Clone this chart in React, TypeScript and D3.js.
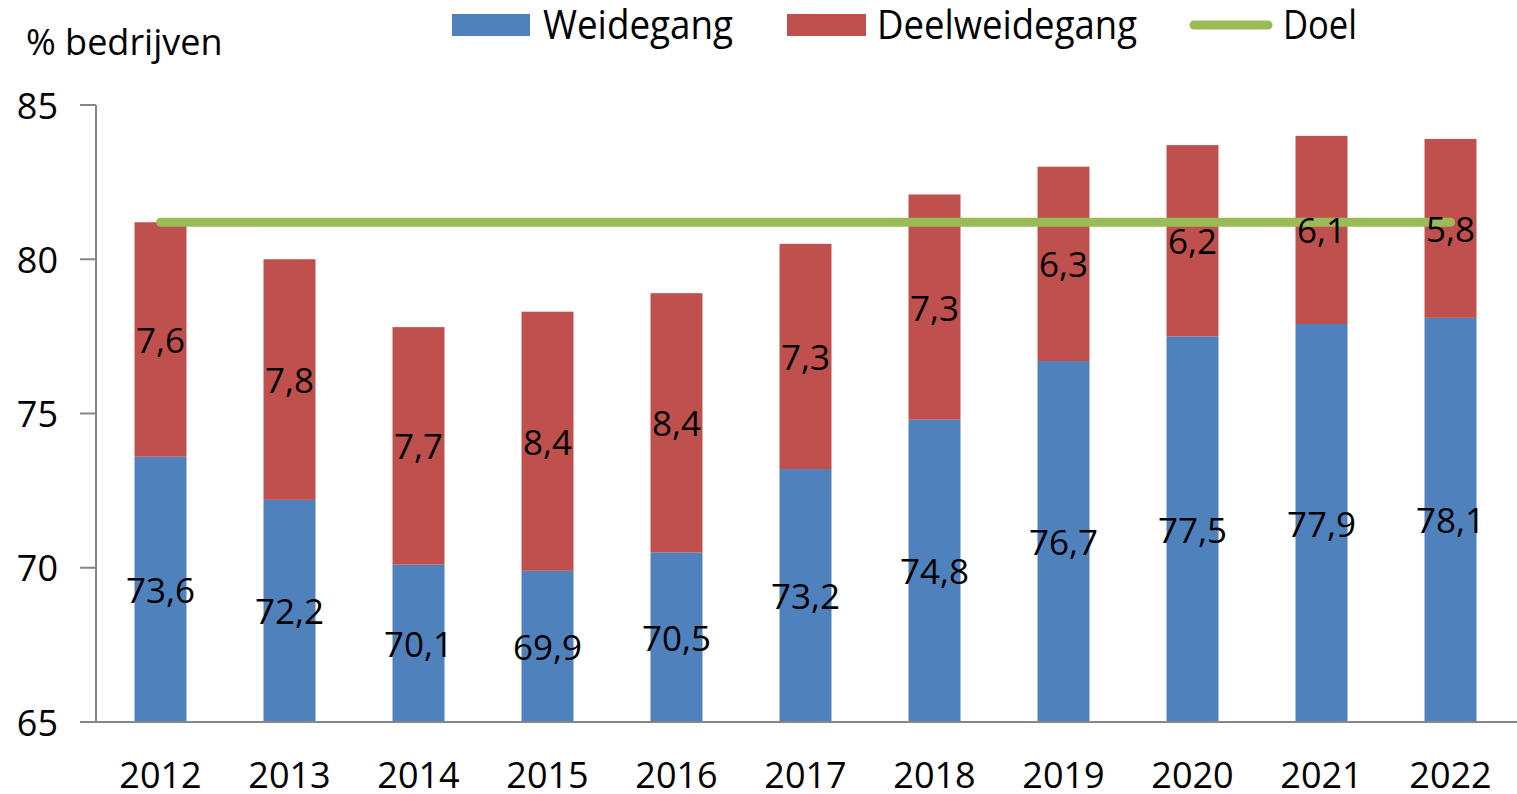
import React from "react";
import * as d3 from "d3";

const years = ["2012", "2013", "2014", "2015", "2016", "2017", "2018", "2019", "2020", "2021", "2022"];
const weidegang = [73.6, 72.2, 70.1, 69.9, 70.5, 73.2, 74.8, 76.7, 77.5, 77.9, 78.1];
const deelweidegang = [7.6, 7.8, 7.7, 8.4, 8.4, 7.3, 7.3, 6.3, 6.2, 6.1, 5.8];
const doel = [81.2, 81.2, 81.2, 81.2, 81.2, 81.2, 81.2, 81.2, 81.2, 81.2, 81.2];
const yTicks = [65, 70, 75, 80, 85];

const W = 1517;
const H = 794;
const FONT = "'Open Sans', 'Noto Sans', sans-serif";
const BLUE = "#4F81BD";
const RED = "#C0504D";
const GREEN = "#9BBB59";
const AXIS = "#868686";

const fmt = (v: number) => v.toFixed(1).replace(".", ",");

export default function App() {
  const x = d3.scaleBand<string>().domain(years).range([96, 1515]).padding(0);
  const y = d3.scaleLinear().domain([65, 85]).range([722, 105]);
  const bw = x.bandwidth() * 0.403;
  const cx = (yr: string) => (x(yr) as number) + x.bandwidth() / 2;

  const line = d3
    .line<number>()
    .x((_, i) => cx(years[i]))
    .y((d) => y(d));

  return (
    <svg width={W} height={H} style={{ position: "absolute", left: 0, top: 0, background: "#fff" }}>
      <rect x={0} y={0} width={W} height={H} fill="#fff" />
      {years.map((yr, i) => {
        const w = weidegang[i];
        const d = deelweidegang[i];
        const x0 = cx(yr) - bw / 2;
        return (
          <g key={yr}>
            <rect x={x0} y={y(w)} width={bw} height={y(65) - y(w)} fill={BLUE} />
            <rect x={x0} y={y(w + d)} width={bw} height={y(w) - y(w + d)} fill={RED} />
          </g>
        );
      })}
      <path d={line(doel) || ""} fill="none" stroke={GREEN} strokeWidth={9} strokeLinecap="round" />
      {years.map((yr, i) => {
        const w = weidegang[i];
        const d = deelweidegang[i];
        return (
          <g key={"l" + yr} fontFamily={FONT} fontSize={35} fill="#000" textAnchor="middle">
            <text x={cx(yr)} y={y((65 + w) / 2)} dominantBaseline="central">
              {fmt(w)}
            </text>
            <text x={cx(yr)} y={y(w + d / 2)} dominantBaseline="central">
              {fmt(d)}
            </text>
          </g>
        );
      })}
      <line x1={96} x2={96} y1={y(85)} y2={y(65)} stroke={AXIS} strokeWidth={2} />
      <line x1={80} x2={W} y1={y(65)} y2={y(65)} stroke={AXIS} strokeWidth={2} />
      {yTicks.map((t) => (
        <g key={"t" + t}>
          <line x1={80} x2={96} y1={y(t)} y2={y(t)} stroke={AXIS} strokeWidth={2} />
          <text
            x={58}
            y={y(t)}
            dominantBaseline="central"
            textAnchor="end"
            fontFamily={FONT}
            fontSize={36}
            fill="#000"
          >
            {t}
          </text>
        </g>
      ))}
      {years.map((yr) => (
        <text
          key={"x" + yr}
          x={cx(yr)}
          y={788}
          textAnchor="middle"
          fontFamily={FONT}
          fontSize={36}
          fill="#000"
        >
          {yr}
        </text>
      ))}
      <text x={26} y={55} fontFamily={FONT} fontSize={36} fill="#000">
        % bedrijven
      </text>
      <g fontFamily={FONT} fontSize={40} fill="#000">
        <rect x={452} y={14} width={78} height={22} fill={BLUE} />
        <text x={543} y={39} textLength={190} lengthAdjust="spacingAndGlyphs">
          Weidegang
        </text>
        <rect x={787} y={14} width={79} height={22} fill={RED} />
        <text x={877} y={39} textLength={260} lengthAdjust="spacingAndGlyphs">
          Deelweidegang
        </text>
        <line x1={1194} x2={1268} y1={25} y2={25} stroke={GREEN} strokeWidth={9} strokeLinecap="round" />
        <text x={1283} y={39} textLength={74} lengthAdjust="spacingAndGlyphs">
          Doel
        </text>
      </g>
    </svg>
  );
}
